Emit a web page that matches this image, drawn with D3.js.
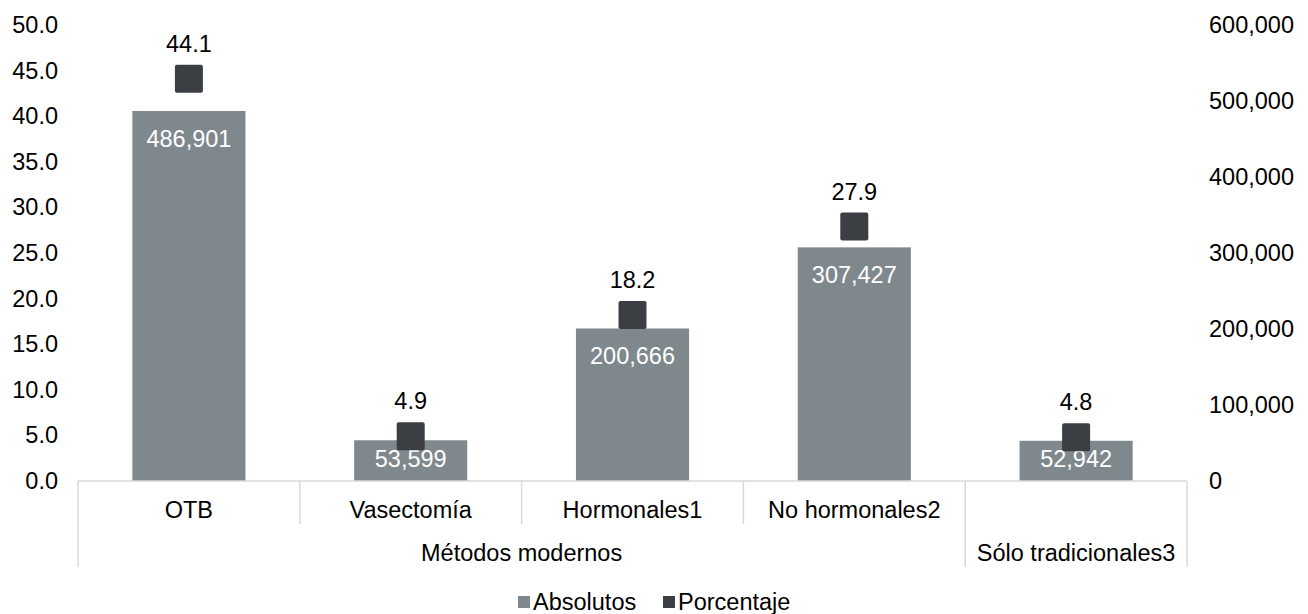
<!DOCTYPE html>
<html>
  <head>
    <meta charset="utf-8" />
    <title>Métodos anticonceptivos</title>
    <script src="https://d3js.org/d3.v7.min.js"></script>
    <style>
      body { margin: 0; background: #fff; }
      text { font-family: "Liberation Sans", Arial, sans-serif; }
    </style>
  </head>
  <body>
    <script>
      // data
      const categories = ["OTB", "Vasectomía", "Hormonales1", "No hormonales2", "Sólo tradicionales3"];
      const groups = [
        { name: "Métodos modernos", from: 0, to: 3 },
        { name: "Sólo tradicionales3", from: 4, to: 4 }
      ];
      const absolutos = [486901, 53599, 200666, 307427, 52942];
      const porcentaje = [44.1, 4.9, 18.2, 27.9, 4.8];
      const leftTicks = [0, 5, 10, 15, 20, 25, 30, 35, 40, 45, 50];
      const rightTicks = [0, 100000, 200000, 300000, 400000, 500000, 600000];
      const legendNames = ["Absolutos", "Porcentaje"];

      const width = 1308, height = 614;
      const margin = { top: 25, right: 121, bottom: 133, left: 78 };
      const barColor = "#7f888d";
      const squareColor = "#3b3f43";
      const gridColor = "#d9d9d9";
      const fontSize = 23.5;

      const svg = d3.select("body").append("svg")
        .attr("width", width)
        .attr("height", height);

      const x = d3.scaleBand()
        .domain(d3.range(categories.length))
        .range([margin.left, width - margin.right])
        .paddingInner(0)
        .paddingOuter(0);

      const yL = d3.scaleLinear().domain([0, 50]).range([height - margin.bottom, margin.top]);
      const yR = d3.scaleLinear().domain([0, 600000]).range([height - margin.bottom, margin.top]);

      const base = yL(0);
      const barW = x.bandwidth() * 0.51;

      // left axis
      const leftAxis = svg.append("g")
        .attr("transform", `translate(${margin.left - 20},0)`)
        .call(d3.axisLeft(yL).tickValues(leftTicks).tickFormat(d3.format(".1f")).tickSize(0).tickPadding(0));
      leftAxis.select(".domain").remove();

      // right axis
      const rightAxis = svg.append("g")
        .attr("transform", `translate(${width - margin.right + 22},0)`)
        .call(d3.axisRight(yR).tickValues(rightTicks).tickFormat(d3.format(",")).tickSize(0).tickPadding(0));
      rightAxis.select(".domain").remove();

      svg.selectAll(".tick text")
        .attr("font-size", fontSize)
        .attr("font-family", "Liberation Sans, Arial, sans-serif")
        .attr("fill", "#000");

      // bars
      svg.selectAll("rect.bar")
        .data(absolutos)
        .join("rect")
        .attr("class", "bar")
        .attr("x", (d, i) => x(i) + (x.bandwidth() - barW) / 2)
        .attr("y", d => yR(d))
        .attr("width", barW)
        .attr("height", d => base - yR(d))
        .attr("fill", barColor);

      // category axis lines
      const cat = svg.append("g").attr("stroke", gridColor).attr("stroke-width", 1.5);
      cat.append("line")
        .attr("x1", margin.left).attr("x2", width - margin.right)
        .attr("y1", base).attr("y2", base);
      const bounds = d3.range(categories.length + 1);
      const groupEdges = new Set([0]);
      groups.forEach(g => { groupEdges.add(g.from); groupEdges.add(g.to + 1); });
      cat.selectAll("line.sep")
        .data(bounds)
        .join("line")
        .attr("class", "sep")
        .attr("x1", i => i < categories.length ? x(i) : x(categories.length - 1) + x.bandwidth())
        .attr("x2", i => i < categories.length ? x(i) : x(categories.length - 1) + x.bandwidth())
        .attr("y1", base)
        .attr("y2", i => groupEdges.has(i) ? base + 86 : base + 43);

      // bar value labels
      const fmt = d3.format(",");
      svg.selectAll("text.abs")
        .data(absolutos)
        .join("text")
        .attr("class", "abs")
        .attr("x", (d, i) => x(i) + x.bandwidth() / 2)
        .attr("y", d => Math.min(yR(d) + 28, (yR(d) + base) / 2 - 2))
        .attr("text-anchor", "middle")
        .attr("dominant-baseline", "central")
        .attr("font-size", fontSize)
        .attr("fill", "#fff")
        .text(d => fmt(d));

      // percentage markers
      const sq = 28;
      svg.selectAll("rect.pct")
        .data(porcentaje)
        .join("rect")
        .attr("class", "pct")
        .attr("x", (d, i) => x(i) + x.bandwidth() / 2 - sq / 2)
        .attr("y", d => yL(d) - sq / 2)
        .attr("width", sq)
        .attr("height", sq)
        .attr("rx", 2)
        .attr("fill", squareColor);

      svg.selectAll("text.pctlab")
        .data(porcentaje)
        .join("text")
        .attr("class", "pctlab")
        .attr("x", (d, i) => x(i) + x.bandwidth() / 2)
        .attr("y", d => yL(d) - 35)
        .attr("text-anchor", "middle")
        .attr("dominant-baseline", "central")
        .attr("font-size", fontSize)
        .attr("fill", "#000")
        .text(d => d3.format(".1f")(d));

      // category labels
      svg.selectAll("text.cat")
        .data(categories)
        .join("text")
        .attr("class", "cat")
        .attr("x", (d, i) => x(i) + x.bandwidth() / 2)
        .attr("y", base + 29)
        .attr("text-anchor", "middle")
        .attr("dominant-baseline", "central")
        .attr("font-size", fontSize)
        .attr("fill", "#000")
        .text((d, i) => groups.some(g => g.from === i && g.to === i && g.name === d) ? "" : d);

      // group labels
      svg.selectAll("text.grp")
        .data(groups)
        .join("text")
        .attr("class", "grp")
        .attr("x", g => (x(g.from) + x(g.to) + x.bandwidth()) / 2)
        .attr("y", base + 72)
        .attr("text-anchor", "middle")
        .attr("dominant-baseline", "central")
        .attr("font-size", fontSize)
        .attr("fill", "#000")
        .text(g => g.name);

      // legend
      const legend = svg.append("g").attr("transform", `translate(0,${height - 12})`);
      const items = [
        { name: legendNames[0], color: barColor, x: 518 },
        { name: legendNames[1], color: squareColor, x: 663 }
      ];
      items.forEach(it => {
        legend.append("rect")
          .attr("x", it.x).attr("y", -6)
          .attr("width", 12).attr("height", 12)
          .attr("fill", it.color);
        legend.append("text")
          .attr("x", it.x + 15).attr("y", 0)
          .attr("dominant-baseline", "central")
          .attr("font-size", fontSize)
          .attr("fill", "#000")
          .text(it.name);
      });
    </script>
  </body>
</html>
